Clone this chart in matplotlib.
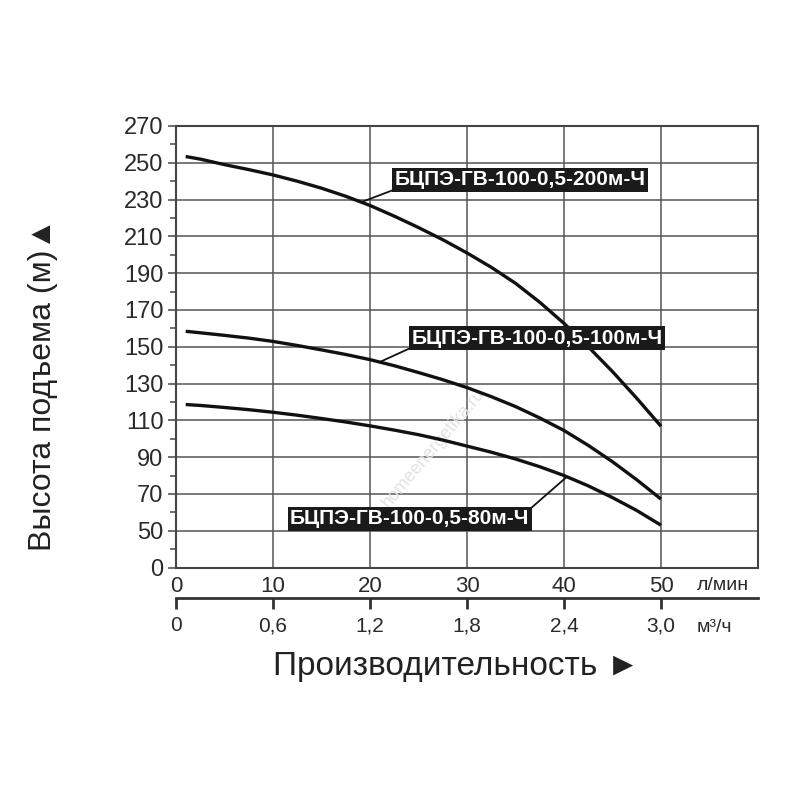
import numpy as np
import matplotlib
matplotlib.use('Agg')
import matplotlib.pyplot as plt
from matplotlib.ticker import FixedLocator, NullLocator

plt.rcParams['font.family'] = ['Liberation Sans', 'DejaVu Sans']

# расход, л/мин
flow = [1, 2.5, 5, 7.5, 10, 12.5, 15, 17.5, 20, 22.5, 25,
        27.5, 30, 32.5, 35, 37.5, 40, 42.5, 45, 47.5, 50]
# напор, м
head_200 = [253.4, 252.0, 249.0, 246.3, 243.4, 240.0, 236.2, 231.8, 226.8, 221.0, 214.8,
            208.2, 201.0, 193.2, 184.5, 174.2, 162.7, 150.0, 136.5, 122.0, 106.8]
head_100 = [158.4, 157.6, 156.2, 154.7, 152.9, 150.7, 148.3, 145.8, 143.0, 139.7, 136.0,
            132.1, 127.8, 122.9, 117.5, 111.3, 104.5, 96.4, 87.5, 77.7, 67.2]
head_80 = [118.6, 118.1, 117.0, 115.8, 114.4, 112.8, 111.0, 109.1, 107.0, 104.7, 102.2,
           99.3, 96.0, 92.7, 89.0, 84.8, 80.0, 74.4, 68.0, 61.0, 53.0]

names = ['БЦПЭ-ГВ-100-0,5-200м-Ч', 'БЦПЭ-ГВ-100-0,5-100м-Ч', 'БЦПЭ-ГВ-100-0,5-80м-Ч']

# ось Y с разрывом: подпись "0" стоит на месте 30
y_pos = [30, 50, 70, 90, 110, 130, 150, 170, 190, 210, 230, 250, 270]
y_lab = ['0', '50', '70', '90', '110', '130', '150', '170', '190', '210', '230', '250', '270']
y_minor = [40, 60, 80, 100, 120, 140, 160, 180, 200, 220, 240, 260]
grid_y = [50, 70, 90, 110, 130, 150, 170, 190, 210, 230, 250]
grid_x = [10, 20, 30, 40, 50]

x_ticks = [0, 10, 20, 30, 40, 50]
m3_ticks = [0, 0.6, 1.2, 1.8, 2.4, 3.0]
m3_lab = ['0', '0,6', '1,2', '1,8', '2,4', '3,0']

fig = plt.figure(figsize=(8, 8), dpi=100)
ax = fig.add_axes([0.22, 0.2906, 0.7275, 0.5519])
ax.set_xlim(0, 60)
ax.set_ylim(30, 270)

# сетка
ax.hlines(grid_y, 0, 60, colors='#555555', lw=1.1, zorder=1)
ax.vlines(grid_x, 30, 270, colors='#555555', lw=1.1, zorder=1)

for s in ax.spines.values():
    s.set_color('#444444')
    s.set_linewidth(1.5)

# кривые
for h in (head_200, head_100, head_80):
    ax.plot(flow, h, color='#111111', lw=2.4, zorder=3, solid_capstyle='butt')

# подписи кривых
lab_pos = [(35.5, 240.7), (37.2, 154.7), (24.1, 56.4)]
lab_x = [19.1, 21.0, 40.3]
lab_rel = [(0, 0), (0, 0), (1, 1)]
for name, h, (tx, ty), px, rp in zip(names, (head_200, head_100, head_80), lab_pos, lab_x, lab_rel):
    py = np.interp(px, flow, h)
    ax.annotate(name, xy=(px, py), xytext=(tx, ty), ha='center', va='center',
                color='white', fontsize=15, fontweight='bold', zorder=5,
                bbox=dict(boxstyle='square,pad=0.12', fc='#1a1a1a', ec='none'),
                arrowprops=dict(arrowstyle='-', color='#111111', lw=1.3,
                                relpos=rp, shrinkA=0, shrinkB=0))

# водяной знак
ax.text(26.5, 95, 'homeenergetika.ru', rotation=50, color='#e2e2e2', fontsize=13,
        ha='center', va='center', zorder=2)

# ось Y
ax.yaxis.set_major_locator(FixedLocator(y_pos))
ax.yaxis.set_minor_locator(FixedLocator(y_minor))
ax.set_yticklabels(y_lab)
ax.tick_params(axis='y', which='major', direction='out', length=6, width=1.2,
               color='#555555', labelsize=17, labelcolor='#2a2a2a', pad=3)
ax.tick_params(axis='y', which='minor', direction='out', length=4, width=1.2,
               color='#555555')

# ось X (л/мин)
ax.xaxis.set_major_locator(FixedLocator(x_ticks))
ax.xaxis.set_minor_locator(NullLocator())
ax.tick_params(axis='x', length=0, labelsize=16, labelcolor='#2a2a2a', pad=6)
ax.text(0.895, -0.04, 'л/мин', transform=ax.transAxes, fontsize=14,
        ha='left', va='center', color='#2a2a2a')

# вторая ось X (м³/ч)
sec = ax.secondary_xaxis(-0.069, functions=(lambda q: q * 0.06, lambda q: q / 0.06))
sec.xaxis.set_major_locator(FixedLocator(m3_ticks))
sec.set_xticklabels(m3_lab)
sec.spines['bottom'].set_linewidth(2)
sec.spines['bottom'].set_color('#333333')
sec.tick_params(axis='x', direction='out', length=8, width=2, color='#333333',
                labelsize=15, labelcolor='#2a2a2a', pad=5)
ax.text(0.895, -0.135, 'м³/ч', transform=ax.transAxes, fontsize=14,
        ha='left', va='center', color='#2a2a2a')

fig.text(0.57, 0.1675, 'Производительность ►', fontsize=24, ha='center', va='center',
         color='#222222')
fig.text(0.054, 0.519, 'Высота подъема (м)▲', fontsize=23, rotation=90,
         ha='center', va='center', color='#222222')

fig.savefig('out.png', dpi=100)
